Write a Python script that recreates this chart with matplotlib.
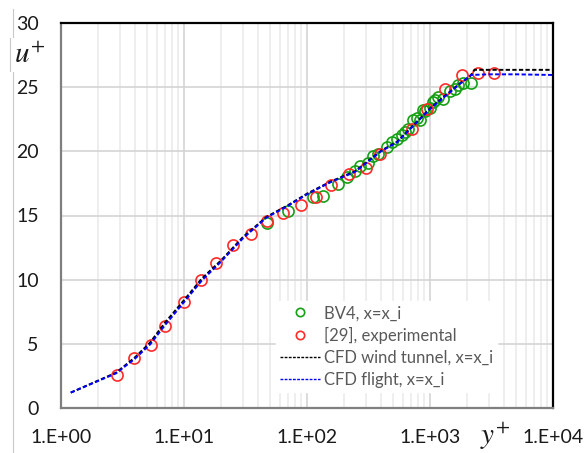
import matplotlib
matplotlib.use("Agg")
import matplotlib.pyplot as plt
from matplotlib.lines import Line2D
from matplotlib.ticker import FixedLocator, NullFormatter

plt.rcParams["font.family"] = ["Lato", "DejaVu Sans"]
plt.rcParams["mathtext.fontset"] = "stix"

# ── data ───────────────────────────────────────────────────────────

bv4_y = [47.6, 70.5, 112, 136, 179, 213, 246, 268, 314, 346, 380, 444, 490,
         537, 587, 625, 666, 731, 780, 829, 884, 911, 1000, 1064, 1100, 1160,
         1280, 1455, 1597, 1700, 1866, 2170]
bv4_u = [14.4, 15.38, 16.45, 16.52, 17.45, 18.03, 18.45, 18.85, 19.07, 19.6,
         19.8, 20.3, 20.76, 21.0, 21.28, 21.54, 21.72, 22.42, 22.62, 22.42,
         23.2, 23.17, 23.4, 23.87, 24.0, 24.2, 24.06, 24.72, 24.82, 25.18,
         25.3, 25.36]

exp_y = [2.84, 3.92, 5.36, 7.05, 9.95, 13.7, 18.3, 25.2, 35.1, 47.6, 63.4,
         89.4, 118, 156, 219, 300, 394, 718, 950, 1325, 1810, 2450, 3320]
exp_u = [2.57, 3.92, 4.93, 6.42, 8.24, 9.95, 11.33, 12.7, 13.56, 14.57, 15.22,
         15.82, 16.47, 17.37, 18.2, 18.7, 19.82, 21.71, 23.29, 24.84, 25.95,
         26.1, 26.08]

cfd_wt_y = [1.2, 2.8, 4.0, 5.3, 7.0, 10, 14, 20, 30, 47, 70, 100, 156, 246,
            400, 540, 1000, 1750, 2100, 2300, 10000]
cfd_wt_u = [1.2, 2.75, 3.95, 5.1, 6.65, 8.4, 10.1, 11.5, 13.3, 14.9, 15.8,
            16.7, 17.65, 18.45, 20.05, 20.75, 23.35, 25.3, 25.8, 26.35, 26.35]

cfd_fl_y = [1.2, 2.8, 4.0, 5.3, 7.0, 10, 14, 20, 30, 47, 70, 100, 156, 246,
            400, 540, 1000, 1750, 2150, 3000, 5000, 10000]
cfd_fl_u = [1.2, 2.7, 3.85, 4.95, 6.45, 8.25, 9.95, 11.4, 13.2, 14.85, 15.75,
            16.65, 17.6, 18.4, 20.0, 20.7, 23.3, 25.25, 25.95, 26.0, 26.0, 25.95]

X_TICKS = [1, 10, 100, 1000, 10000]
X_LABELS = ["1.E+00", "1.E+01", "1.E+02", "1.E+03", "1.E+04"]
Y_TICKS = [0, 5, 10, 15, 20, 25, 30]

GREEN = "#16a016"
RED = "#ff2a2a"
TXT = "#1a1a1a"

# ── plotting ───────────────────────────────────────────────────────

fig = plt.figure(figsize=(5.86, 4.53), dpi=100)
ax = fig.add_axes([61 / 586, 45 / 453, 492 / 586, 385 / 453])

ax.plot(bv4_y, bv4_u, "o", ms=8, mfc="none", mec=GREEN, mew=1.2, zorder=3)
ax.plot(exp_y, exp_u, "o", ms=8, mfc="none", mec=RED, mew=1.2, zorder=3)
ax.plot(cfd_wt_y, cfd_wt_u, color="black", lw=1.4, ls=(0, (2.2, 1.2)), zorder=4)
ax.plot(cfd_fl_y, cfd_fl_u, color="#0000ff", lw=1.4, ls=(0, (2.2, 1.2)), zorder=5)

ax.set_xscale("log")
ax.set_xlim(1, 10000)
ax.set_ylim(0, 30)
ax.set_xticks(X_TICKS)
ax.set_xticklabels(X_LABELS)
ax.xaxis.set_minor_locator(FixedLocator(
    [m * 10 ** e for e in range(4) for m in range(2, 10)]))
ax.xaxis.set_minor_formatter(NullFormatter())
ax.set_yticks(Y_TICKS)
ax.tick_params(which="both", length=0, labelsize=14, labelcolor=TXT)
ax.tick_params(axis="y", pad=16)
ax.tick_params(axis="x", pad=15)

ax.grid(which="major", color="#d4d4d4", lw=1.2)
ax.grid(which="minor", axis="x", color="#e9e9e9", lw=1.1)
ax.set_axisbelow(True)

for side in ("top", "right"):
    ax.spines[side].set_color("black")
    ax.spines[side].set_linewidth(1.6)
for side in ("left", "bottom"):
    ax.spines[side].set_color("#7f7f7f")
    ax.spines[side].set_linewidth(1.6)

handles = [
    Line2D([], [], ls="none", marker="o", ms=6, mfc="none", mec=GREEN, mew=1.2),
    Line2D([], [], ls="none", marker="o", ms=6, mfc="none", mec=RED, mew=1.2),
    Line2D([], [], color="black", lw=1.0, ls=(0, (2, 1))),
    Line2D([], [], color="#0000ff", lw=1.0, ls=(0, (2, 1))),
]
labels = ["BV4, x=x_i", "[29], experimental",
          "CFD wind tunnel, x=x_i", "CFD flight, x=x_i"]
leg = ax.legend(handles, labels, loc="upper left",
                bbox_to_anchor=(0.437, 0.278), fontsize=12,
                frameon=True, fancybox=False, framealpha=1,
                edgecolor="white", facecolor="white",
                handlelength=2.4, handletextpad=0.2, labelspacing=0.35,
                borderpad=0.25, borderaxespad=0)
for t in leg.get_texts():
    t.set_color("#595959")
leg.set_zorder(6)

fig.text(30 / 586, 1 - 55 / 453, "$u^{+}$", fontsize=21, ha="center",
         va="center", color=TXT)
fig.text(495 / 586, 1 - 437 / 453, "$y^{+}$", fontsize=21, ha="center",
         va="center", color=TXT)

# thin border of the label box on the left edge
fig.add_artist(Line2D([13 / 586, 13 / 586], [1 - 9 / 453, 1 - 37 / 453],
                      color="#c8c8c8", lw=0.8))
fig.add_artist(Line2D([10 / 586, 10 / 586], [1 - 38 / 453, 1 - 71 / 453],
                      color="#c8c8c8", lw=0.8))
fig.add_artist(Line2D([13 / 586, 13 / 586], [1 - 72 / 453, 0],
                      color="#c8c8c8", lw=0.8))

fig.savefig("out.png", dpi=100)
plt.close(fig)
